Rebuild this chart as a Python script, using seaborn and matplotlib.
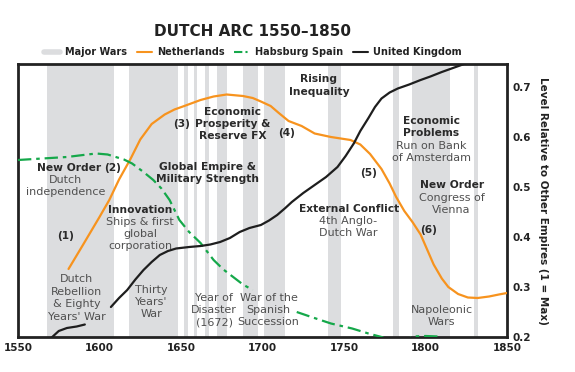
import numpy as np
import pandas as pd
import matplotlib
matplotlib.use("Agg")
import matplotlib.pyplot as plt
from matplotlib.lines import Line2D
import seaborn as sns

# ---------------- data ----------------
nl_years = [1581, 1590, 1600, 1606, 1612, 1619, 1625, 1632, 1640, 1646, 1652, 1662, 1670, 1678,
            1688, 1694, 1699, 1705, 1710, 1716, 1724, 1732, 1742, 1754, 1760, 1766, 1773, 1778,
            1782, 1787, 1792, 1797, 1801, 1805, 1810, 1814, 1820, 1826, 1832, 1839, 1845, 1850]
nl_vals = [0.336, 0.385, 0.440, 0.474, 0.515, 0.556, 0.595, 0.626, 0.645, 0.655, 0.662, 0.674, 0.681, 0.685,
           0.682, 0.678, 0.671, 0.662, 0.648, 0.632, 0.622, 0.607, 0.600, 0.594, 0.585, 0.566, 0.536, 0.507,
           0.480, 0.452, 0.430, 0.405, 0.375, 0.345, 0.317, 0.300, 0.286, 0.279, 0.278, 0.281, 0.285, 0.288]

es_years = [1550, 1560, 1570, 1580, 1590, 1598, 1605, 1610, 1615, 1620, 1627, 1633, 1638, 1643, 1649,
            1655, 1662, 1670, 1676, 1682, 1688, 1694, 1700, 1721, 1730, 1742, 1755, 1765, 1773, 1780,
            1788, 1792, 1800, 1808, 1812]
es_vals = [0.554, 0.556, 0.558, 0.560, 0.564, 0.567, 0.565, 0.560, 0.555, 0.547, 0.530, 0.514, 0.497, 0.474, 0.434,
           0.410, 0.388, 0.354, 0.335, 0.320, 0.305, 0.294, np.nan, 0.250, 0.240, 0.227, 0.217, 0.207, 0.200, 0.190,
           0.193, 0.201, 0.202, 0.201, 0.190]

uk_years = [1568, 1571, 1575, 1580, 1586, 1591, 1600, 1607, 1612, 1617, 1622, 1627, 1632, 1637, 1642, 1647,
            1655, 1662, 1668, 1674, 1680, 1686, 1692, 1699, 1704, 1709, 1714, 1718, 1725, 1732, 1739,
            1746, 1751, 1756, 1760, 1765, 1769, 1773, 1778, 1783, 1790, 1797, 1803, 1810, 1816, 1822, 1828]
uk_vals = [0.190, 0.200, 0.212, 0.218, 0.221, 0.225, np.nan, 0.260, 0.278, 0.294, 0.315, 0.334, 0.350, 0.364, 0.372, 0.377,
           0.380, 0.382, 0.385, 0.390, 0.398, 0.410, 0.418, 0.424, 0.433, 0.444, 0.458, 0.470, 0.488, 0.504, 0.520,
           0.540, 0.562, 0.587, 0.612, 0.638, 0.660, 0.677, 0.689, 0.697, 0.705, 0.714, 0.721, 0.730, 0.737, 0.744, 0.752]

war_starts = [1568, 1618, 1652, 1658, 1665, 1672, 1688, 1701, 1740, 1780, 1792, 1830]
war_ends   = [1609, 1648, 1654, 1660, 1667, 1678, 1697, 1714, 1748, 1784, 1815, 1832]

series_names = ["Netherlands", "Habsburg Spain", "United Kingdom"]
x_ticks = [1550, 1600, 1650, 1700, 1750, 1800, 1850]
y_ticks = [0.2, 0.3, 0.4, 0.5, 0.6, 0.7]

# ---------------- build long table with segments ----------------
def to_rows(name, years, vals):
    rows, seg = [], 0
    for y, v in zip(years, vals):
        if np.isnan(v):
            seg += 1
            continue
        rows.append({"year": y, "value": v, "series": name, "seg": f"{name}-{seg}"})
    return rows

rows = (to_rows("Netherlands", nl_years, nl_vals) + to_rows("Habsburg Spain", es_years, es_vals)
        + to_rows("United Kingdom", uk_years, uk_vals))
df = pd.DataFrame(rows)

colors = {"Netherlands": "#F7931E", "Habsburg Spain": "#15A84A", "United Kingdom": "#1E1E1E"}
dashes = {"Netherlands": "", "Habsburg Spain": (6, 2.2, 1.6, 2.2), "United Kingdom": ""}
band_color = "#DCDDDF"
bold_c = "#2A2A2A"
reg_c = "#505050"

sns.set_theme(style="white")
plt.rcParams["font.family"] = ["DejaVu Sans"]

fig = plt.figure(figsize=(5.75, 3.72), dpi=100)
ax = fig.add_axes([18 / 575, 1 - 337 / 372, (507 - 18) / 575, (337 - 64) / 372])

for s, e in zip(war_starts, war_ends):
    ax.axvspan(s, e, color=band_color, lw=0, zorder=0)

sns.lineplot(data=df, x="year", y="value", hue="series", style="series", units="seg",
             estimator=None, sort=False, palette=colors, dashes=dashes, linewidth=1.6,
             legend=False, ax=ax, zorder=3)

ax.set_xlim(1550, 1850)
ax.set_ylim(0.2, 0.746)
ax.set_xticks(x_ticks)
ax.set_xticklabels([str(t) for t in x_ticks], fontsize=7.5, fontweight="bold", color="#222")
ax.yaxis.tick_right()
ax.yaxis.set_label_position("right")
ax.set_yticks(y_ticks)
ax.set_yticklabels([f"{t:.1f}" for t in y_ticks], fontsize=7.5, fontweight="bold", color="#222")
ax.tick_params(axis="both", length=0, pad=4)
ax.set_xlabel("")
ax.set_ylabel("Level Relative to Other Empires (1 = Max)", rotation=270, fontsize=7.5,
              fontweight="bold", color="#222", labelpad=12)
for sp in ax.spines.values():
    sp.set_visible(True)
    sp.set_linewidth(2)
    sp.set_color("#222")

def bt(x, y, s, **kw):
    ax.text(x, y, s, ha="center", va="center", fontsize=7.7, fontweight="bold", color=bold_c,
            linespacing=1.3, zorder=5, **kw)

def rt(x, y, s, **kw):
    ax.text(x, y, s, ha="center", va="center", fontsize=8, color=reg_c,
            linespacing=1.3, zorder=5, **kw)

bt(1579, 0.402, "(1)")
rt(1586, 0.278, "Dutch\nRebellion\n& Eighty\nYears' War")
bt(1581.5, 0.538, "New Order")
bt(1608, 0.538, "(2)")
rt(1579, 0.502, "Dutch\nindependence")
bt(1625, 0.454, "Innovation")
rt(1625, 0.406, "Ships & first\nglobal\ncorporation")
bt(1666, 0.528, "Global Empire &\nMilitary Strength")
bt(1650.6, 0.626, "(3)")
bt(1681.5, 0.626, "Economic\nProsperity &\nReserve FX")
bt(1715, 0.608, "(4)")
bt(1734.6, 0.703, "Rising\nInequality")
bt(1765, 0.528, "(5)")
bt(1753, 0.456, "External Conflict")
rt(1752.5, 0.420, "4th Anglo-\nDutch War")
bt(1803.7, 0.620, "Economic\nProblems")
rt(1803.7, 0.570, "Run on Bank\nof Amsterdam")
bt(1816, 0.504, "New Order")
rt(1816, 0.466, "Congress of\nVienna")
bt(1802, 0.414, "(6)")
rt(1632, 0.270, "Thirty\nYears'\nWar")
rt(1670.4, 0.254, "Year of\nDisaster\n(1672)")
rt(1703.7, 0.254, "War of the\nSpanish\nSuccession")
rt(1810, 0.242, "Napoleonic\nWars")

fig.text(253 / 575, 1 - 31 / 372, "DUTCH ARC 1550\u20131850", ha="center", va="center",
         fontsize=11, fontweight="bold", color="#222")

handles = [Line2D([0], [0], color=band_color, lw=4),
           Line2D([0], [0], color=colors["Netherlands"], lw=1.5),
           Line2D([0], [0], color=colors["Habsburg Spain"], lw=1.5, dashes=(4, 1.5, 1, 1.5)),
           Line2D([0], [0], color=colors["United Kingdom"], lw=1.5)]
labels = ["Major Wars"] + series_names
leg = fig.legend(handles, labels, loc="center", bbox_to_anchor=(253 / 575, 1 - 52 / 372), ncol=4,
                 frameon=False, handlelength=1.6, handletextpad=0.5, columnspacing=1.0,
                 prop={"weight": "bold", "size": 7})
for t in leg.get_texts():
    t.set_color("#222")

fig.savefig("out.png", dpi=100)
